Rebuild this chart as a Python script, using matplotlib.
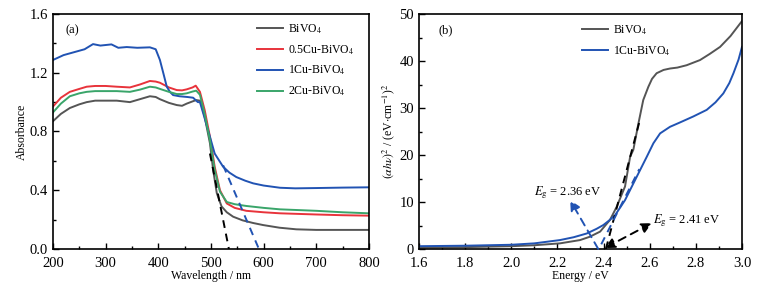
import numpy as np
import matplotlib
matplotlib.use('Agg')
import matplotlib.pyplot as plt
from matplotlib.ticker import MultipleLocator, FormatStrFormatter

plt.rcParams['font.family'] = ['Liberation Serif', 'DejaVu Serif']
plt.rcParams['mathtext.fontset'] = 'stix'

# ----- (a) UV-vis absorbance data
wl_bivo4 = [200, 215, 232, 250, 264, 280, 300, 321, 346, 365, 384, 395, 403, 420, 435, 445, 454, 465, 472, 479,
            482, 488, 498, 504, 511, 520, 530, 542, 560, 580, 599, 630, 662, 700, 750, 800]
abs_bivo4 = [0.87, 0.92, 0.96, 0.985, 1.0, 1.01, 1.01, 1.01, 1.0, 1.02, 1.04, 1.035, 1.02, 0.995, 0.98, 0.975, 0.99,
             1.005, 1.014, 1.01, 0.98, 0.90, 0.72, 0.54, 0.38, 0.29, 0.25, 0.22, 0.195, 0.177, 0.163, 0.145, 0.134,
             0.13, 0.13, 0.13]

wl_05cu = [200, 215, 232, 250, 264, 280, 300, 321, 346, 365, 384, 395, 403, 420, 435, 445, 454, 465, 471, 479,
           488, 498, 507, 517, 530, 545, 567, 600, 631, 700, 750, 800]
abs_05cu = [0.97, 1.03, 1.07, 1.09, 1.105, 1.11, 1.11, 1.105, 1.10, 1.12, 1.144, 1.14, 1.132, 1.10, 1.082, 1.08,
            1.087, 1.10, 1.112, 1.07, 0.946, 0.764, 0.56, 0.40, 0.31, 0.28, 0.26, 0.25, 0.243, 0.235, 0.23, 0.227]

wl_1cu = [200, 220, 240, 260, 276, 290, 311, 324, 340, 360, 384, 395, 403, 410, 416, 422, 428, 440, 455, 466,
          475, 479, 488, 498, 507, 523, 535, 548, 565, 580, 600, 631, 660, 700, 750, 800]
abs_1cu = [1.287, 1.32, 1.34, 1.36, 1.395, 1.385, 1.393, 1.37, 1.375, 1.37, 1.373, 1.36, 1.287, 1.19, 1.105, 1.07,
           1.048, 1.04, 1.035, 1.03, 1.00, 1.0, 0.89, 0.764, 0.65, 0.56, 0.52, 0.49, 0.465, 0.447, 0.432, 0.417,
           0.413, 0.415, 0.418, 0.42]

wl_2cu = [200, 215, 232, 250, 264, 280, 300, 321, 346, 365, 384, 395, 403, 420, 435, 445, 454, 465, 472, 479,
          488, 498, 507, 517, 530, 545, 567, 600, 631, 700, 750, 800]
abs_2cu = [0.93, 0.99, 1.04, 1.06, 1.07, 1.075, 1.075, 1.075, 1.07, 1.085, 1.105, 1.10, 1.09, 1.07, 1.055, 1.055,
           1.06, 1.072, 1.078, 1.05, 0.92, 0.74, 0.54, 0.39, 0.32, 0.305, 0.293, 0.28, 0.27, 0.26, 0.25, 0.243]

# tangent lines (a)
tan_a_black_x = [498, 534]
tan_a_black_y = [0.65, 0.0]
tan_a_blue_x = [523, 591]
tan_a_blue_y = [0.57, 0.0]

# ----- (b) Tauc plot data
e_bivo4 = [1.6, 1.8, 2.0, 2.1, 2.211, 2.298, 2.34, 2.385, 2.428, 2.457, 2.493, 2.515, 2.529, 2.551, 2.572,
           2.594, 2.61, 2.63, 2.66, 2.688, 2.72, 2.76, 2.818, 2.86, 2.905, 2.95, 3.0]
t_bivo4 = [0.3, 0.4, 0.6, 0.8, 1.2, 1.9, 2.6, 3.7, 6.2, 9.0, 13.3, 19.6, 21.1, 26.7, 31.7, 34.5, 36.2, 37.4, 38.1,
           38.4, 38.6, 39.1, 40.2, 41.5, 43.0, 45.3, 48.5]

e_1cu = [1.6, 1.8, 2.0, 2.1, 2.211, 2.27, 2.327, 2.37, 2.399, 2.425, 2.45, 2.493, 2.544, 2.587, 2.616, 2.645,
         2.688, 2.73, 2.789, 2.847, 2.885, 2.919, 2.945, 2.963, 2.985, 3.0]
t_1cu = [0.6, 0.7, 0.9, 1.2, 1.9, 2.5, 3.3, 4.3, 5.1, 6.1, 7.2, 10.4, 15.4, 19.6, 22.5, 24.6, 26.0, 26.9, 28.2,
         29.6, 31.2, 33.1, 35.3, 37.4, 40.3, 43.0]

tan_b_black_x = [2.41, 2.555]
tan_b_black_y = [0.0, 27]
tan_b_blue_x = [2.39, 2.555]
tan_b_blue_y = [1.0, 17]

c_black = '#555555'
c_red = '#e8333b'
c_blue = '#2153b3'
c_green = '#3aa56a'

fig = plt.figure(figsize=(7.61, 2.88), dpi=100)
ax1 = fig.add_axes([53/761, 1-249/288, 316/761, 235/288])
ax2 = fig.add_axes([419/761, 1-249/288, 323/761, 235/288])

for ax in (ax1, ax2):
    for s in ax.spines.values():
        s.set_linewidth(1.2)
    ax.tick_params(which='both', direction='in', labelsize=10.5, top=False, right=False)
    ax.tick_params(which='major', length=4, width=1)
    ax.tick_params(which='minor', length=2.5, width=1)
    ax.tick_params(axis='x', pad=6)

# (a)
ax1.plot(wl_bivo4, abs_bivo4, color=c_black, lw=1.4, label='BiVO$_4$')
ax1.plot(wl_05cu, abs_05cu, color=c_red, lw=1.4, label='0.5Cu-BiVO$_4$')
ax1.plot(wl_1cu, abs_1cu, color=c_blue, lw=1.4, label='1Cu-BiVO$_4$')
ax1.plot(wl_2cu, abs_2cu, color=c_green, lw=1.4, label='2Cu-BiVO$_4$')
ax1.plot(tan_a_black_x, tan_a_black_y, color='black', lw=1.4, ls=(0, (4, 3)))
ax1.plot(tan_a_blue_x, tan_a_blue_y, color=c_blue, lw=1.4, ls=(0, (4, 3)))
ax1.set_xlim(200, 800)
ax1.set_ylim(0, 1.6)
ax1.xaxis.set_major_locator(MultipleLocator(100))
ax1.xaxis.set_minor_locator(MultipleLocator(50))
ax1.yaxis.set_major_locator(MultipleLocator(0.4))
ax1.yaxis.set_minor_locator(MultipleLocator(0.2))
ax1.yaxis.set_major_formatter(FormatStrFormatter('%.1f'))
ax1.set_xlabel('Wavelength / nm', fontsize=8.5, labelpad=0)
ax1.set_ylabel('Absorbance', fontsize=8.5, labelpad=1)
ax1.text(0.04, 0.93, '(a)', transform=ax1.transAxes, fontsize=9, va='center')
ax1.legend(loc='upper left', bbox_to_anchor=(0.645, 0.965), frameon=False, fontsize=8.5,
           handlelength=2.2, labelspacing=0.62, borderaxespad=0, borderpad=0, handletextpad=0.4)

# (b)
ax2.plot(e_bivo4, t_bivo4, color=c_black, lw=1.4, label='BiVO$_4$')
ax2.plot(e_1cu, t_1cu, color=c_blue, lw=1.4, label='1Cu-BiVO$_4$')
ax2.plot(tan_b_black_x, tan_b_black_y, color='black', lw=1.4, ls=(0, (4, 3)))
ax2.plot(tan_b_blue_x, tan_b_blue_y, color=c_blue, lw=1.4, ls=(0, (4, 3)))
ax2.annotate('', xy=(2.255, 10.4), xytext=(2.377, 0),
             arrowprops=dict(arrowstyle='-|>,head_length=0.6,head_width=0.3', color=c_blue,
                             lw=1.4, ls=(0, (4, 3)), shrinkA=0, shrinkB=0))
ax2.annotate('', xy=(2.609, 5.5), xytext=(2.405, 0.2),
             arrowprops=dict(arrowstyle='<|-|>,head_length=0.6,head_width=0.3', color='black',
                             lw=1.4, ls=(0, (4, 3)), shrinkA=0, shrinkB=0))
ax2.text(2.10, 12.0, r'$E_{\rm g}$ = 2.36 eV', fontsize=9, va='center')
ax2.text(2.615, 6.0, r'$E_{\rm g}$ = 2.41 eV', fontsize=9, va='center')
ax2.set_xlim(1.6, 3.0)
ax2.set_ylim(0, 50)
ax2.xaxis.set_major_locator(MultipleLocator(0.2))
ax2.xaxis.set_minor_locator(MultipleLocator(0.1))
ax2.yaxis.set_major_locator(MultipleLocator(10))
ax2.yaxis.set_minor_locator(MultipleLocator(5))
ax2.xaxis.set_major_formatter(FormatStrFormatter('%.1f'))
ax2.set_xlabel('Energy / eV', fontsize=8.5, labelpad=0)
ax2.set_ylabel(r'$(\alpha h\nu)^2$ / (eV$\cdot$cm$^{-1}$)$^2$', fontsize=8.5, labelpad=2)
ax2.text(0.06, 0.93, '(b)', transform=ax2.transAxes, fontsize=9, va='center')
ax2.legend(loc='upper left', bbox_to_anchor=(0.505, 0.96), frameon=False, fontsize=8.5,
           handlelength=2.2, labelspacing=0.62, borderaxespad=0, borderpad=0, handletextpad=0.4)

fig.savefig('out.png', dpi=100)
